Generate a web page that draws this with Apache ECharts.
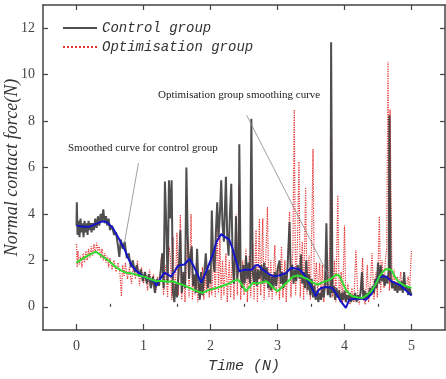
<!DOCTYPE html>
<html>
<head>
<meta charset="utf-8">
<script src="https://cdn.jsdelivr.net/npm/echarts@6.0.0/dist/echarts.min.js"></script>
<style>
  html, body { margin: 0; padding: 0; background: #fff; }
  #chart { width: 446px; height: 379px; }
</style>
</head>
<body>
<div id="chart"></div>
<script>
// raw control signal [time, force]
const controlData = [
  [0.00,3.5],[0.005,4.5],[0.015,3.1],[0.03,3.7],[0.045,3.0],[0.06,3.8],[0.075,3.2],[0.09,3.6],
  [0.105,3.0],[0.12,3.7],[0.135,3.2],[0.15,3.6],[0.165,3.1],[0.18,3.7],[0.195,3.3],[0.21,3.6],
  [0.225,3.2],[0.24,3.6],[0.26,3.3],[0.28,3.8],[0.30,3.4],[0.32,3.9],[0.34,3.5],[0.36,4.0],
  [0.38,3.7],[0.40,4.2],[0.42,3.6],[0.44,3.9],[0.46,3.5],[0.48,3.8],[0.50,3.3],[0.53,3.5],
  [0.56,3.1],[0.59,3.2],[0.62,2.6],[0.64,2.15],[0.66,2.9],[0.69,2.5],[0.72,2.8],[0.75,2.1],
  [0.78,2.3],[0.81,1.7],[0.84,2.0],[0.87,1.5],[0.90,1.8],[0.93,1.3],[0.96,1.6],[0.99,1.1],
  [1.02,1.5],[1.05,1.0],[1.08,1.4],[1.11,0.8],[1.14,1.3],[1.17,0.6],[1.20,1.2],[1.23,0.9],
  [1.26,1.6],[1.28,2.3],[1.30,0.8],[1.32,5.4],[1.34,3.5],[1.36,1.0],[1.38,5.45],[1.40,3.8],
  [1.42,5.45],[1.44,0.6],[1.46,0.2],[1.48,1.0],[1.50,0.4],[1.53,1.8],[1.55,3.3],[1.57,0.6],
  [1.60,1.5],[1.62,0.8],[1.64,6.0],[1.66,3.0],[1.68,1.2],[1.70,2.2],[1.72,2.6],[1.74,0.9],
  [1.76,1.4],[1.78,0.6],[1.80,2.5],[1.82,1.0],[1.84,0.3],[1.86,1.5],[1.88,0.5],[1.90,1.2],
  [1.93,2.3],[1.96,0.8],[1.98,1.6],[2.00,1.0],[2.02,4.15],[2.04,2.0],[2.06,1.5],[2.08,3.2],
  [2.10,4.5],[2.12,3.0],[2.14,4.0],[2.16,5.45],[2.18,3.5],[2.20,2.8],[2.23,5.6],[2.25,3.0],
  [2.27,2.2],[2.29,4.0],[2.31,5.3],[2.33,2.0],[2.35,1.0],[2.37,2.5],[2.38,3.9],[2.40,1.2],
  [2.42,2.0],[2.43,7.0],[2.45,1.5],[2.47,0.8],[2.49,1.8],[2.51,1.0],[2.53,2.2],[2.55,1.2],
  [2.57,1.9],[2.59,1.0],[2.61,8.1],[2.63,1.5],[2.65,1.0],[2.67,1.7],[2.69,0.9],[2.71,1.6],
  [2.73,1.2],[2.76,1.8],[2.78,1.0],[2.80,1.9],[2.82,1.1],[2.84,1.7],[2.86,0.8],[2.88,1.4],
  [2.90,0.7],[2.92,1.3],[2.94,0.8],[2.96,1.5],[2.98,0.9],[3.00,1.6],[3.03,2.0],[3.05,1.0],
  [3.07,1.5],[3.09,0.8],[3.11,1.4],[3.13,1.0],[3.15,1.7],[3.18,3.65],[3.20,1.2],[3.22,1.8],
  [3.24,1.0],[3.26,1.6],[3.28,1.1],[3.30,1.8],[3.33,1.2],[3.35,2.25],[3.37,1.0],[3.39,1.5],
  [3.41,0.8],[3.43,2.0],[3.45,0.7],[3.47,1.4],[3.49,0.5],[3.51,1.2],[3.53,0.4],[3.55,0.9],
  [3.57,0.3],[3.59,0.7],[3.61,0.2],[3.63,0.6],[3.65,0.3],[3.67,0.8],[3.69,0.4],[3.71,1.0],
  [3.73,3.6],[3.75,0.5],[3.77,0.9],[3.79,0.4],[3.80,11.4],[3.82,0.6],[3.84,0.9],[3.86,0.3],
  [3.88,0.8],[3.90,0.4],[3.92,0.7],[3.94,0.2],[3.96,0.6],[3.98,0.3],[4.00,0.7],[4.02,0.2],
  [4.04,0.5],[4.06,0.3],[4.08,0.6],[4.10,0.2],[4.12,0.5],[4.14,0.3],[4.16,0.6],[4.18,0.2],
  [4.20,0.5],[4.22,0.3],[4.24,0.6],[4.26,1.5],[4.28,0.4],[4.30,0.7],[4.32,0.3],[4.34,0.6],
  [4.36,0.4],[4.38,0.8],[4.40,0.5],[4.42,0.9],[4.44,0.6],[4.46,1.2],[4.48,0.8],[4.50,1.9],
  [4.52,1.0],[4.54,1.8],[4.56,1.1],[4.58,1.4],[4.60,0.9],[4.62,1.3],[4.64,1.0],[4.66,1.6],
  [4.67,8.25],[4.69,1.2],[4.71,0.8],[4.73,1.1],[4.75,0.7],[4.77,1.0],[4.79,0.6],[4.81,1.0],
  [4.83,0.7],[4.85,1.1],[4.87,0.6],[4.89,1.5],[4.91,0.7],[4.93,0.9],[4.95,0.5],[4.97,0.8],
  [5.00,0.5]
];

// raw optimisation signal [time, force]
const optimData = [
  [0.00,2.7],[0.01,1.7],[0.02,2.4],[0.04,1.8],[0.06,2.2],[0.08,1.7],[0.10,2.3],[0.12,1.9],
  [0.14,2.4],[0.16,2.0],[0.18,2.5],[0.20,2.1],[0.22,2.6],[0.24,2.2],[0.26,2.7],[0.28,2.3],
  [0.30,2.75],[0.32,2.4],[0.34,2.6],[0.36,2.1],[0.38,2.5],[0.40,2.0],[0.42,2.3],[0.44,1.9],
  [0.46,2.2],[0.48,1.7],[0.50,2.1],[0.53,1.6],[0.56,2.0],[0.59,1.5],[0.62,1.9],[0.65,1.4],
  [0.67,0.45],[0.69,1.8],[0.71,1.3],[0.73,1.9],[0.76,1.2],[0.79,1.7],[0.82,1.0],[0.85,1.8],
  [0.88,1.2],[0.91,2.0],[0.94,0.9],[0.97,1.7],[1.00,1.0],[1.03,1.5],[1.06,0.7],[1.09,1.6],
  [1.12,0.9],[1.15,1.4],[1.18,0.6],[1.21,1.3],[1.24,0.9],[1.26,2.0],[1.28,2.3],[1.30,0.5],
  [1.33,1.8],[1.36,0.4],[1.38,2.6],[1.40,2.2],[1.42,0.3],[1.44,3.0],[1.46,0.6],[1.48,1.2],
  [1.50,3.2],[1.52,0.5],[1.55,3.95],[1.57,0.3],[1.59,1.5],[1.62,0.2],[1.64,1.8],[1.66,3.0],
  [1.68,0.4],[1.71,4.0],[1.73,0.3],[1.75,1.3],[1.77,0.5],[1.79,1.9],[1.81,0.2],[1.83,1.0],
  [1.85,0.4],[1.88,1.7],[1.90,0.3],[1.92,1.5],[1.94,0.6],[1.96,1.8],[1.98,0.4],[2.00,1.2],
  [2.02,0.5],[2.05,2.5],[2.07,0.4],[2.10,3.5],[2.12,0.6],[2.14,3.0],[2.16,0.3],[2.18,2.0],
  [2.20,0.5],[2.23,2.3],[2.25,0.2],[2.28,2.0],[2.30,0.4],[2.33,2.5],[2.35,0.3],[2.38,4.0],
  [2.40,0.5],[2.43,5.25],[2.45,0.3],[2.48,2.0],[2.50,0.5],[2.53,2.5],[2.55,0.2],[2.58,2.2],
  [2.60,0.4],[2.63,2.7],[2.65,0.3],[2.68,3.3],[2.70,0.2],[2.73,3.8],[2.75,0.5],[2.78,3.8],
  [2.80,0.3],[2.83,2.5],[2.85,4.3],[2.87,0.4],[2.90,2.0],[2.92,0.3],[2.96,2.65],[2.98,0.5],
  [3.01,1.8],[3.03,0.3],[3.06,2.6],[3.08,0.4],[3.11,2.0],[3.13,0.2],[3.16,2.4],[3.18,4.1],
  [3.20,0.4],[3.23,2.5],[3.25,8.5],[3.27,0.5],[3.30,3.0],[3.32,6.25],[3.34,0.4],[3.37,2.8],
  [3.39,0.3],[3.42,5.15],[3.44,0.5],[3.47,2.2],[3.49,0.3],[3.51,3.0],[3.53,6.8],[3.55,0.4],
  [3.58,1.9],[3.60,0.5],[3.63,1.9],[3.65,0.3],[3.67,1.8],[3.69,0.2],[3.72,1.5],[3.75,0.5],
  [3.78,2.5],[3.80,7.3],[3.82,0.4],[3.85,2.0],[3.87,0.2],[3.90,4.8],[3.92,0.3],[3.95,1.5],
  [3.97,0.1],[4.00,3.5],[4.02,0.2],[4.05,1.0],[4.08,0.1],[4.11,0.8],[4.14,0.2],[4.17,2.45],
  [4.20,0.4],[4.22,0.1],[4.25,1.0],[4.27,2.1],[4.29,0.3],[4.31,0.1],[4.34,1.8],[4.36,0.2],
  [4.39,1.2],[4.41,2.3],[4.44,0.3],[4.47,1.5],[4.49,0.4],[4.52,3.9],[4.54,0.6],[4.56,2.0],
  [4.59,0.8],[4.61,2.0],[4.63,2.5],[4.65,10.55],[4.67,0.7],[4.68,8.5],[4.71,0.8],[4.74,1.6],
  [4.76,0.7],[4.79,1.3],[4.81,0.8],[4.84,1.5],[4.86,0.7],[4.89,1.2],[4.92,0.8],[4.95,1.3],
  [4.97,0.7],[5.00,2.4]
];

// smoothed control (blue)
const controlSmooth = [
  [0.00,3.5],[0.10,3.45],[0.20,3.45],[0.30,3.58],[0.39,3.68],[0.45,3.65],[0.54,3.4],[0.64,2.9],
  [0.72,2.46],[0.76,2.17],[0.82,1.8],[0.89,1.55],[0.99,1.31],[1.08,1.2],[1.16,1.1],[1.19,0.9],
  [1.25,1.2],[1.31,1.47],[1.36,1.4],[1.41,1.3],[1.46,1.5],[1.51,1.75],[1.56,1.8],[1.61,1.82],
  [1.69,2.07],[1.74,1.8],[1.78,1.57],[1.86,1.04],[1.93,1.47],[1.98,1.85],[2.03,2.2],[2.09,2.8],
  [2.16,3.13],[2.22,3.0],[2.28,2.89],[2.33,2.5],[2.36,2.17],[2.43,1.53],[2.49,1.58],[2.55,1.6],
  [2.62,1.6],[2.67,1.78],[2.71,1.8],[2.77,1.62],[2.83,1.5],[2.89,1.38],[2.95,1.31],[3.02,1.35],
  [3.08,1.4],[3.13,1.46],[3.20,1.67],[3.26,1.66],[3.33,1.6],[3.38,1.45],[3.43,1.24],[3.50,0.9],
  [3.57,0.45],[3.61,0.7],[3.65,0.81],[3.72,0.85],[3.82,0.81],[3.88,0.55],[3.93,0.31],[3.98,0.1],
  [4.02,-0.05],[4.07,0.3],[4.13,0.33],[4.20,0.35],[4.26,0.35],[4.32,0.3],[4.40,0.55],[4.45,0.9],
  [4.50,1.25],[4.56,1.3],[4.62,1.31],[4.70,1.1],[4.76,1.02],[4.82,0.95],[4.90,0.75],[5.00,0.48]
];

// smoothed optimisation (green)
const optimSmooth = [
  [0.00,1.9],[0.08,2.05],[0.17,2.2],[0.25,2.32],[0.29,2.37],[0.35,2.25],[0.42,2.1],[0.49,1.96],
  [0.58,1.72],[0.69,1.53],[0.74,1.47],[0.84,1.43],[0.92,1.36],[0.99,1.31],[1.04,1.26],[1.11,1.18],
  [1.19,1.1],[1.28,1.12],[1.36,1.08],[1.44,1.1],[1.52,1.0],[1.58,0.95],[1.63,0.89],[1.70,0.8],
  [1.76,0.72],[1.82,0.65],[1.88,0.6],[1.95,0.7],[2.03,0.77],[2.10,0.82],[2.16,0.88],[2.23,0.95],
  [2.28,1.0],[2.33,1.1],[2.41,1.17],[2.46,1.0],[2.53,0.67],[2.58,0.85],[2.63,1.03],[2.70,1.0],
  [2.76,1.05],[2.83,1.1],[2.88,1.0],[2.94,0.8],[3.00,0.67],[3.05,0.8],[3.10,0.95],[3.16,1.1],
  [3.23,1.3],[3.29,1.35],[3.35,1.33],[3.40,1.25],[3.45,1.19],[3.52,1.05],[3.60,0.95],[3.67,1.05],
  [3.75,1.13],[3.82,1.25],[3.87,1.38],[3.92,1.35],[3.97,1.05],[4.02,0.74],[4.07,0.55],[4.12,0.45],
  [4.20,0.4],[4.27,0.38],[4.33,0.5],[4.40,0.67],[4.46,0.95],[4.52,1.3],[4.57,1.5],[4.62,1.63],
  [4.67,1.62],[4.71,1.55],[4.75,1.3],[4.80,1.1],[4.87,0.95],[4.93,0.88],[5.00,0.81]
];

const xLabelValues = [0, 1, 2, 3, 4, 5];
const xMinorValues = [0.5, 1.5, 2.5, 3.5, 4.5];
const yLabelValues = [0, 2, 4, 6, 8, 10, 12];

// annotation leader lines, data units
const controlNote = [[0.925, 6.19], [0.716, 2.76]];
const optimNote = [[2.54, 8.25], [3.77, 1.3]];

const axisColor = '#444';
const serif = '"Liberation Serif", "DejaVu Serif", serif';
const mono = '"Liberation Mono", "DejaVu Sans Mono", monospace';

const chart = echarts.init(document.getElementById('chart'), null, { renderer: 'canvas' });

const baseX = { type: 'value', min: -0.5, max: 5.5, splitLine: { show: false } };
const baseY = { type: 'value', min: -1, max: 13, splitLine: { show: false } };

chart.setOption({
  animation: false,
  backgroundColor: '#fff',
  grid: { left: 43, right: 1, top: 5, bottom: 49, containLabel: false, outerBoundsMode: 'none' },
  legend: {
    data: ['Control group', 'Optimisation group'],
    orient: 'vertical',
    left: 57,
    top: 16,
    itemWidth: 34,
    itemHeight: 14,
    itemGap: 5,
    itemStyle: { opacity: 0 },
    textStyle: { fontFamily: mono, fontStyle: 'italic', fontSize: 14, color: '#333' },
  },
  xAxis: [
    {
      ...baseX,
      position: 'bottom',
      name: 'Time (N)',
      nameLocation: 'middle',
      nameGap: 29,
      nameTextStyle: { fontFamily: mono, fontStyle: 'italic', fontSize: 15, color: '#333' },
      axisLine: { show: true, onZero: false, lineStyle: { color: axisColor, width: 1.5 } },
      axisTick: { show: true, inside: true, length: 6, customValues: xLabelValues, lineStyle: { color: axisColor, width: 1.2 } },
      axisLabel: { customValues: xLabelValues, margin: 9, fontFamily: serif, fontSize: 14, color: '#444' },
    },
    {
      ...baseX,
      position: 'bottom',
      axisLine: { show: false },
      axisTick: { show: true, inside: true, length: 3, customValues: xMinorValues, lineStyle: { color: axisColor, width: 1.2 } },
      axisLabel: { show: false },
    },
    {
      ...baseX,
      position: 'top',
      axisLine: { show: true, onZero: false, lineStyle: { color: axisColor, width: 1.5 } },
      axisTick: { show: true, inside: true, length: 5, customValues: xLabelValues, lineStyle: { color: axisColor, width: 1.2 } },
      axisLabel: { show: false },
    },
  ],
  yAxis: [
    {
      ...baseY,
      position: 'left',
      name: 'Normal contact force(N)',
      nameLocation: 'middle',
      nameGap: 22,
      nameMoveOverlap: false,
      nameTextStyle: { fontFamily: serif, fontStyle: 'italic', fontSize: 18, color: '#333' },
      axisLine: { show: true, onZero: false, lineStyle: { color: axisColor, width: 1.5 } },
      axisTick: { show: true, inside: true, length: 5, customValues: yLabelValues, lineStyle: { color: axisColor, width: 1.2 } },
      axisLabel: { customValues: yLabelValues, margin: 8, fontFamily: serif, fontSize: 14, color: '#444' },
    },
    {
      ...baseY,
      position: 'right',
      axisLine: { show: true, onZero: false, lineStyle: { color: axisColor, width: 1.5 } },
      axisTick: { show: true, inside: true, length: 5, customValues: yLabelValues, lineStyle: { color: axisColor, width: 1.2 } },
      axisLabel: { show: false },
    },
  ],
  graphic: [
    {
      type: 'text', left: 158, top: 90,
      style: { text: 'Optimisation group smoothing curve', fontFamily: serif, fontSize: 11, fill: '#222' },
    },
    {
      type: 'text', left: 68, top: 143,
      style: { text: 'Smoothed curve for control group', fontFamily: serif, fontSize: 11, fill: '#222' },
    },
  ],
  series: [
    {
      name: 'Optimisation group',
      type: 'line',
      data: optimData,
      symbol: 'none',
      lineStyle: { color: '#e53535', width: 1.2, type: 'dotted' },
      itemStyle: { color: '#e53535' },
      z: 2,
    },
    {
      name: 'Control group',
      type: 'line',
      data: controlData,
      symbol: 'none',
      lineStyle: { color: '#3c3c3c', width: 2, opacity: 0.9 },
      itemStyle: { color: '#3c3c3c' },
      z: 3,
      markLine: {
        silent: true,
        symbol: 'none',
        label: { show: false },
        lineStyle: { color: '#888', width: 0.8, type: 'solid' },
        data: [
          [{ coord: controlNote[0] }, { coord: controlNote[1] }],
          [{ coord: optimNote[0] }, { coord: optimNote[1] }],
        ],
      },
    },
    {
      name: 'Control smooth',
      type: 'line',
      data: controlSmooth,
      symbol: 'none',
      lineStyle: { color: '#1414c8', width: 2 },
      z: 4,
    },
    {
      name: 'Optimisation smooth',
      type: 'line',
      data: optimSmooth,
      symbol: 'none',
      lineStyle: { color: '#2fdc2f', width: 2 },
      z: 5,
    },
  ],
});
</script>
</body>
</html>
